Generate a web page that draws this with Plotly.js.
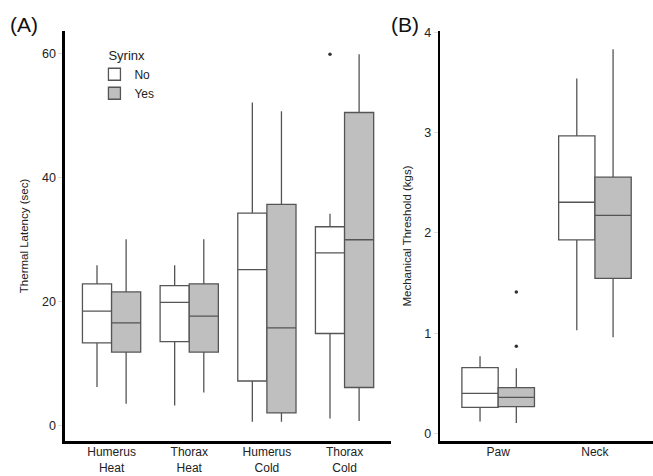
<!DOCTYPE html>
<html>
<head>
<meta charset="utf-8">
<script src="https://cdn.plot.ly/plotly-3.0.1.min.js"></script>
<style>html,body{margin:0;padding:0;background:#fff}#chart{width:653px;height:476px}</style>
</head>
<body>
<div id="chart"></div>
<script>
// Panel A: thermal latency (sec)
var thermalCats = ["Humerus<br>Heat", "Thorax<br>Heat", "Humerus<br>Cold", "Thorax<br>Cold"];
var thermalNoQ1 = [13.4, 13.6, 7.25, 14.9];
var thermalNoMed = [18.5, 19.9, 25.2, 27.9];
var thermalNoQ3 = [22.9, 22.6, 34.3, 32.1];
var thermalNoLow = [6.3, 3.3, 0.7, 1.2];
var thermalNoHigh = [25.9, 25.9, 52.1, 34.2];
var thermalYesQ1 = [11.9, 11.9, 2.1, 6.2];
var thermalYesMed = [16.6, 17.7, 15.8, 30.0];
var thermalYesQ3 = [21.6, 22.9, 35.7, 50.5];
var thermalYesLow = [3.6, 5.4, 0.7, 0.8];
var thermalYesHigh = [30.1, 30.1, 50.7, 59.9];
var thermalNoOutX = ["Thorax<br>Cold"];
var thermalNoOutY = [59.9];

// Panel B: mechanical threshold (kgs)
var mechCats = ["Paw", "Neck"];
var mechNoQ1 = [0.26, 1.93];
var mechNoMed = [0.40, 2.305];
var mechNoQ3 = [0.656, 2.966];
var mechNoLow = [0.12, 1.03];
var mechNoHigh = [0.77, 3.54];
var mechYesQ1 = [0.267, 1.547];
var mechYesMed = [0.36, 2.175];
var mechYesQ3 = [0.457, 2.555];
var mechYesLow = [0.105, 0.96];
var mechYesHigh = [0.65, 3.83];
var mechYesOutX = ["Paw", "Paw"];
var mechYesOutY = [1.41, 0.87];

var lineCol = "#555555";
var noFill = "#ffffff";
var yesFill = "#bfbfbf";

function boxTrace(name, cats, q1, med, q3, lo, hi, fill, xa, ya, showleg) {
  return {
    type: "box", name: name, legendgroup: name, showlegend: showleg,
    x: cats, q1: q1, median: med, q3: q3, lowerfence: lo, upperfence: hi,
    fillcolor: fill, line: {color: lineCol, width: 1.3}, whiskerwidth: 0,
    offsetgroup: name, boxpoints: false, hoverinfo: "y",
    xaxis: xa, yaxis: ya
  };
}
function outTrace(name, xs, ys, xa, ya) {
  return {
    type: "scatter", mode: "markers", name: name + " outliers", showlegend: false,
    x: xs, y: ys, offsetgroup: name,
    marker: {color: "#333333", size: 3.5},
    xaxis: xa, yaxis: ya
  };
}

var data = [
  boxTrace("No", thermalCats, thermalNoQ1, thermalNoMed, thermalNoQ3, thermalNoLow, thermalNoHigh, noFill, "x", "y", true),
  boxTrace("Yes", thermalCats, thermalYesQ1, thermalYesMed, thermalYesQ3, thermalYesLow, thermalYesHigh, yesFill, "x", "y", true),
  boxTrace("No", mechCats, mechNoQ1, mechNoMed, mechNoQ3, mechNoLow, mechNoHigh, noFill, "x2", "y2", false),
  boxTrace("Yes", mechCats, mechYesQ1, mechYesMed, mechYesQ3, mechYesLow, mechYesHigh, yesFill, "x2", "y2", false),
  outTrace("No", thermalNoOutX, thermalNoOutY, "x", "y"),
  outTrace("Yes", [thermalCats[3]], [null], "x", "y"),
  outTrace("No", [mechCats[0]], [null], "x2", "y2"),
  outTrace("Yes", mechYesOutX, mechYesOutY, "x2", "y2")
];

var tickFont = {family: "Liberation Sans, Arial, sans-serif", size: 12.5, color: "#222"};
var axisCommon = {
  showgrid: false, zeroline: false, showline: true, linecolor: "#000", linewidth: 2.5,
  ticks: "outside", ticklen: 4, tickcolor: "#dddddd", tickfont: tickFont
};

var layout = {
  width: 653, height: 476,
  margin: {l: 0, r: 0, t: 0, b: 0},
  paper_bgcolor: "#fff", plot_bgcolor: "#fff",
  boxmode: "group", boxgap: 0.25, boxgroupgap: 0,
  scattermode: "group", scattergap: 0.25,
  font: {family: "Liberation Sans, Arial, sans-serif", color: "#222"},
  xaxis: Object.assign({}, axisCommon, {
    domain: [0.0995, 0.599], anchor: "y", type: "category", ticks: "", ticklabelstandoff: -2,
    range: [-0.6, 3.6], tickfont: Object.assign({}, tickFont, {size: 12})
  }),
  yaxis: Object.assign({}, axisCommon, {
    domain: [0.0735, 0.935], anchor: "x",
    range: [-2.42, 63.64], tickvals: [0, 20, 40, 60],
    title: {text: "Thermal Latency (sec)", font: {size: 11.5, color: "#222"}, standoff: 11}
  }),
  xaxis2: Object.assign({}, axisCommon, {
    domain: [0.674, 1.0], anchor: "y2", type: "category", ticks: "", ticklabelstandoff: -2,
    range: [-0.6, 1.6], tickfont: Object.assign({}, tickFont, {size: 12})
  }),
  yaxis2: Object.assign({}, axisCommon, {
    domain: [0.0735, 0.935], anchor: "x2",
    range: [-0.075, 4.013], tickvals: [0, 1, 2, 3, 4],
    title: {text: "Mechanical Threshold (kgs)", font: {size: 11.5, color: "#222"}, standoff: 10}
  }),
  legend: {
    x: 0.163, y: 0.91, xanchor: "left", yanchor: "top",
    bgcolor: "rgba(0,0,0,0)", tracegroupgap: 0, indentation: -12,
    title: {text: "Syrinx", font: {size: 13, color: "#222"}},
    font: {size: 12, color: "#222"}
  },
  annotations: [
    {text: "(A)", xref: "paper", yref: "paper", x: 0.012, y: 0.948, xanchor: "left", yanchor: "middle",
     showarrow: false, font: {size: 21, color: "#111"}},
    {text: "(B)", xref: "paper", yref: "paper", x: 0.595, y: 0.948, xanchor: "left", yanchor: "middle",
     showarrow: false, font: {size: 21, color: "#111"}}
  ]
};

Plotly.newPlot("chart", data, layout, {staticPlot: true, displayModeBar: false});
</script>
</body>
</html>
